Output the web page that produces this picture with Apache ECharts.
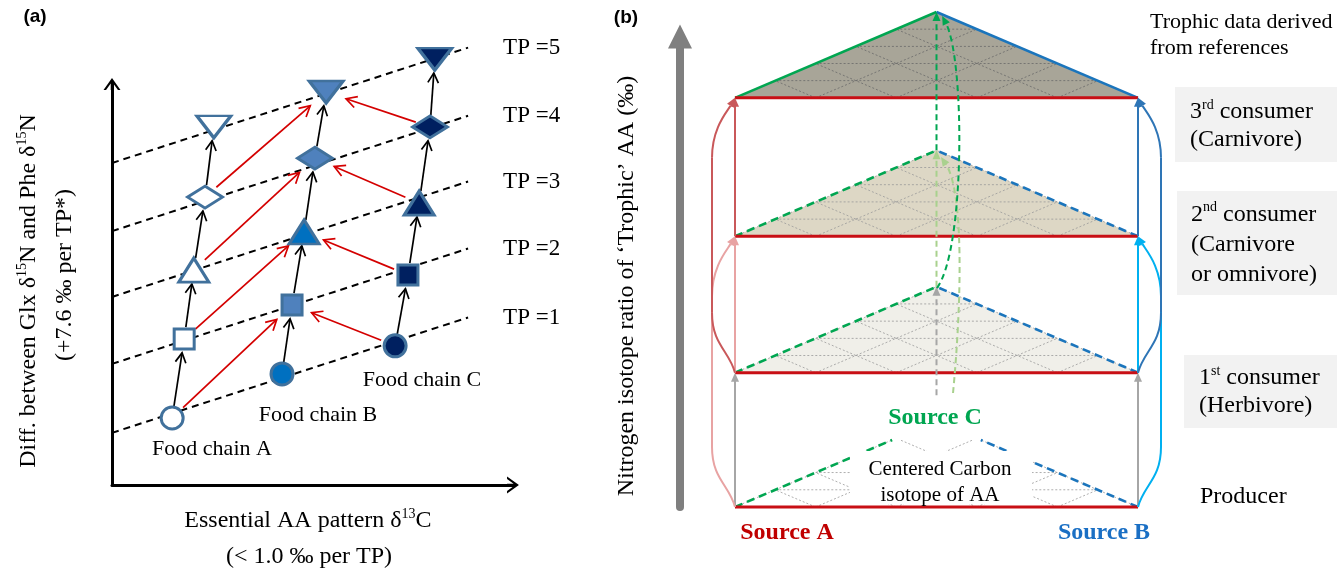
<!DOCTYPE html>
<html><head><meta charset="utf-8">
<script src="https://cdn.jsdelivr.net/npm/echarts@6/dist/echarts.min.js"></script>
<style>html,body{margin:0;padding:0;background:#fff}#c{width:1337px;height:570px}</style>
</head><body><div id="c"></div>
<script>
// ================= Panel (a) data =================
const tpLabels = ['TP =1', 'TP =2', 'TP =3', 'TP =4', 'TP =5'];
const tpLineY0 = [13.0, 30.2, 46.9, 63.3, 80.3];   // y of each TP line at x = 0
const tpLineX1 = 88.8;                               // x where TP lines end
const tpLineRise = 0.324;                            // rise of TP lines per x unit
const chainNames = ['Food chain A', 'Food chain B', 'Food chain C'];
const chainAx = [15.0, 18.0, 20.4, 23.2, 25.4];
const chainAy = [16.7, 36.4, 53.6, 71.8, 89.3];
const chainBx = [42.4, 44.9, 47.9, 50.6, 53.4];
const chainBy = [27.7, 44.9, 63.1, 81.5, 98.0];
const chainCx = [70.6, 73.8, 76.6, 79.3, 80.5];
const chainCy = [34.7, 52.4, 70.3, 89.3, 106.2];

// ================= Panel (b) data =================
const levelNames = ['Producer', '1st consumer', '2nd consumer', '3rd consumer'];
const levelY = [0, 0.985, 1.985, 3.0];
const apexRise = 0.63;
const cornerX = [0, 50, 100];        // Source A, Source C (apex), Source B
const sourceCY = 0.82;
const producerCut = 0.78;
const greenCurve = [[50.1, 1.605], [57.1, 1.884], [57.1, 3.277], [51.4, 3.60]];
const lightGreenCurve = [[54.1, 0.836], [56.3, 1.518], [56.8, 2.324], [51.1, 2.566]];

// ================= styles =================
const SERIF = '"Liberation Serif","Times New Roman",serif';
const SANS = '"Liberation Sans",Arial,sans-serif';
const CHEV = 'path://M10,0 L20,14 L17,14 L11.5,6.3 L11.5,14 L8.5,14 L8.5,6.3 L3,14 L0,14 Z';
const TRI = 'path://M0,20 L10,0 L20,20 Z';
const markerStroke = '#41719c';
const chainFill = [
  ['#ffffff', '#ffffff', '#ffffff', '#ffffff', '#ffffff'],
  ['#0070c0', '#4f81bd', '#0070c0', '#4f81bd', '#4f81bd'],
  ['#002060', '#002060', '#002060', '#002060', '#002060']
];
const markerSymbol = ['circle', 'rect', 'triangle', 'diamond', 'triangle'];
const markerRotate = [0, 0, 0, 0, 180];
const markerSize = [22, 20, [30, 24], [35, 22], [34, 22]];
const RED = '#c80f15', GREEN = '#00a651', BLUE = '#1b75bc';
const triFill = [null, '#f0efe9', '#ddd7c5', '#a8a598'];
const leftLinkColor = ['#a6a6a6', '#e8a3a3', '#c9585a'];
const rightLinkColor = ['#a6a6a6', '#00b0f0', '#2e75b6'];

const chainX = [chainAx, chainBx, chainCx];
const chainY = [chainAy, chainBy, chainCy];

function rot(v, t) { return [v[0] * Math.cos(t) - v[1] * Math.sin(t), v[0] * Math.sin(t) + v[1] * Math.cos(t)]; }
function headPoly(tip, ux, uy, len, half) {
  const bx = tip[0] - ux * len, by = tip[1] - uy * len;
  return [tip, [bx - uy * half, by + ux * half], [bx + uy * half, by - ux * half]];
}

// ---------- panel (a) series ----------
const scatterSeries = chainX.map((xs, c) => ({
  type: 'scatter', xAxisIndex: 0, yAxisIndex: 0, clip: false, z: 5,
  data: xs.map((x, i) => ({
    value: [x, chainY[c][i]],
    symbol: markerSymbol[i], symbolSize: markerSize[i], symbolRotate: markerRotate[i],
    itemStyle: { color: chainFill[c][i], borderColor: markerStroke, borderWidth: 3, opacity: 1 }
  }))
}));

const arrowData = [];
for (let c = 0; c < 3; c++) for (let i = 0; i < 4; i++)
  arrowData.push([chainX[c][i], chainY[c][i], chainX[c][i + 1], chainY[c][i + 1], 0]);
for (let i = 0; i < 4; i++) {
  arrowData.push([chainAx[i], chainAy[i], chainBx[i + 1], chainBy[i + 1], 1]);
  arrowData.push([chainCx[i], chainCy[i], chainBx[i + 1], chainBy[i + 1], 1]);
}

const arrowSeries = {
  type: 'custom', xAxisIndex: 0, yAxisIndex: 0, z: 3, data: arrowData,
  renderItem(params, api) {
    const p1 = api.coord([api.value(0), api.value(1)]);
    const p2 = api.coord([api.value(2), api.value(3)]);
    const kind = api.value(4);
    const dx = p2[0] - p1[0], dy = p2[1] - p1[1], L = Math.hypot(dx, dy), ux = dx / L, uy = dy / L;
    const g0 = kind ? 15 : 12, g1 = kind ? 21 : 14;
    const a = [p1[0] + ux * g0, p1[1] + uy * g0], b = [p2[0] - ux * g1, p2[1] - uy * g1];
    const color = kind ? '#d40000' : '#000';
    const hl = kind ? 12 : 11, ang = 0.5;
    const h1 = rot([-ux, -uy], ang), h2 = rot([-ux, -uy], -ang);
    return {
      type: 'group', children: [
        { type: 'line', shape: { x1: a[0], y1: a[1], x2: b[0], y2: b[1] }, style: { stroke: color, lineWidth: 1.7 } },
        { type: 'polyline', shape: { points: [[b[0] + h1[0] * hl, b[1] + h1[1] * hl], b, [b[0] + h2[0] * hl, b[1] + h2[1] * hl]] }, style: { stroke: color, lineWidth: 1.7, fill: null } }
      ]
    };
  }
};

const tpSeries = {
  type: 'custom', xAxisIndex: 0, yAxisIndex: 0, z: 2,
  data: tpLineY0.map((y, k) => [0, y, tpLineX1, y + tpLineRise * tpLineX1, k]),
  renderItem(params, api) {
    const p1 = api.coord([api.value(0), api.value(1)]);
    const p2 = api.coord([api.value(2), api.value(3)]);
    return {
      type: 'group', children: [
        { type: 'line', shape: { x1: p1[0], y1: p1[1], x2: p2[0], y2: p2[1] }, style: { stroke: '#000', lineWidth: 2, lineDash: [7, 5] } },
        { type: 'text', x: p2[0] + 35, y: p2[1], style: { text: tpLabels[api.value(4)], font: '23px ' + SERIF, fill: '#000', align: 'left', verticalAlign: 'middle' } }
      ]
    };
  }
};

// ---------- panel (b) series ----------
const triSeries = {
  type: 'custom', xAxisIndex: 1, yAxisIndex: 1, z: 2,
  data: levelY.map((y, i) => [cornerX[1], y, i]),
  renderItem(params, api) {
    const i = api.value(2), y0 = api.value(1), h = apexRise;
    const L = cornerX[0], M = cornerX[1], R = cornerX[2], W = R - L;
    const cut = i === 0 ? producerCut : 1;
    const C = (x, y) => api.coord([x, y]);
    const kids = [];
    if (triFill[i]) kids.push({ type: 'polygon', shape: { points: [C(L, y0), C(R, y0), C(M, y0 + h)] }, style: { fill: triFill[i] } });
    const lat = { stroke: i === 3 ? '#6a6a6a' : '#9a9a9a', lineWidth: 0.8, lineDash: [2, 2], fill: null };
    const n = 5;
    const seg = (p, q) => ({ type: 'line', shape: { x1: p[0], y1: p[1], x2: q[0], y2: q[1] }, style: lat });
    for (let k = 1; k < n; k++) {
      const t = k / n; if (t > cut) continue;
      kids.push(seg(C(L + W / 2 * t, y0 + h * t), C(R - W / 2 * t, y0 + h * t)));
    }
    for (let j = 1; j < n; j++) {
      const xb = L + W * j / n;
      const s1 = Math.min((R - xb) / W, cut);
      kids.push(seg(C(xb, y0), C(xb + W / 2 * s1, y0 + h * s1)));
      const s2 = Math.min((xb - L) / W, cut);
      kids.push(seg(C(xb, y0), C(xb - W / 2 * s2, y0 + h * s2)));
    }
    const dash = i === 3 ? null : [8, 5];
    const pl = C(L, y0), pr = C(R, y0);
    const tl = C(L + W / 2 * cut, y0 + h * cut), tr = C(R - W / 2 * cut, y0 + h * cut);
    if (dash) {
      kids.push({ type: 'line', shape: { x1: pl[0], y1: pl[1], x2: tl[0], y2: tl[1] }, style: { stroke: '#9a9a9a', lineWidth: 0.8, lineDash: [2, 2] } });
      kids.push({ type: 'line', shape: { x1: pr[0], y1: pr[1], x2: tr[0], y2: tr[1] }, style: { stroke: '#9a9a9a', lineWidth: 0.8, lineDash: [2, 2] } });
    }
    kids.push({ type: 'line', shape: { x1: pl[0], y1: pl[1], x2: tl[0], y2: tl[1] }, style: { stroke: GREEN, lineWidth: 2.6, lineDash: dash } });
    kids.push({ type: 'line', shape: { x1: pr[0], y1: pr[1], x2: tr[0], y2: tr[1] }, style: { stroke: BLUE, lineWidth: 2.6, lineDash: dash } });
    kids.push({ type: 'line', shape: { x1: pl[0], y1: pl[1], x2: pr[0], y2: pr[1] }, style: { stroke: RED, lineWidth: 3 } });
    return { type: 'group', children: kids };
  }
};

// straight links: [x, yFrom, yTo, colorKey, dashed]
const linkColors = [leftLinkColor[0], leftLinkColor[1], leftLinkColor[2], rightLinkColor[1], rightLinkColor[2], '#a6a6a6', '#a9d18e', GREEN];
const linkData = [
  [cornerX[0], levelY[0], levelY[1], 0, 0],
  [cornerX[0], levelY[1], levelY[2], 1, 0],
  [cornerX[0], levelY[2], levelY[3], 2, 0],
  [cornerX[2], levelY[0], levelY[1], 0, 0],
  [cornerX[2], levelY[1], levelY[2], 3, 0],
  [cornerX[2], levelY[2], levelY[3], 4, 0],
  [cornerX[1], sourceCY, levelY[1] + apexRise, 5, 1],
  [cornerX[1], levelY[1] + apexRise, levelY[2] + apexRise, 6, 1],
  [cornerX[1], levelY[2] + apexRise, levelY[3] + apexRise, 7, 1]
];
const linkSeries = {
  type: 'custom', xAxisIndex: 1, yAxisIndex: 1, z: 4, data: linkData,
  renderItem(params, api) {
    const s = api.coord([api.value(0), api.value(1)]), e = api.coord([api.value(0), api.value(2)]);
    const col = linkColors[api.value(3)], dashed = api.value(4);
    const hl = 9;
    return {
      type: 'group', children: [
        { type: 'line', shape: { x1: s[0], y1: s[1], x2: e[0], y2: e[1] + hl - 1 }, style: { stroke: col, lineWidth: 2, lineDash: dashed ? [6, 4] : null } },
        { type: 'polygon', shape: { points: headPoly(e, 0, -1, hl, 4) }, style: { fill: col } }
      ]
    };
  }
};

// side curves: [x, yFrom, yTo, side, colorIndex]
const curveColors = [leftLinkColor[1], leftLinkColor[2], rightLinkColor[1], rightLinkColor[2]];
const sideCurveData = [
  [cornerX[0], levelY[0], levelY[2], -1, 0],
  [cornerX[0], levelY[1], levelY[3], -1, 1],
  [cornerX[2], levelY[0], levelY[2], 1, 2],
  [cornerX[2], levelY[1], levelY[3], 1, 3]
];
const sideCurveSeries = {
  type: 'custom', xAxisIndex: 1, yAxisIndex: 1, z: 4, data: sideCurveData,
  renderItem(params, api) {
    const s = api.coord([api.value(0), api.value(1)]), e = api.coord([api.value(0), api.value(2)]);
    const b = api.value(3) * 23, col = curveColors[api.value(4)];
    const st = { stroke: col, lineWidth: 2, fill: null };
    const c2 = [e[0] + b * 0.35, e[1] + 14];
    const dx = e[0] - c2[0], dy = e[1] - c2[1], L = Math.hypot(dx, dy), ux = dx / L, uy = dy / L;
    const hl = 9, base = [e[0] - ux * hl, e[1] - uy * hl];
    return {
      type: 'group', children: [
        { type: 'bezierCurve', shape: { x1: s[0], y1: s[1], cpx1: s[0] + b * 0.25, cpy1: s[1] - 22, cpx2: s[0] + b, cpy2: s[1] - 28, x2: s[0] + b, y2: s[1] - 60 }, style: st },
        { type: 'line', shape: { x1: s[0] + b, y1: s[1] - 60, x2: e[0] + b, y2: e[1] + 60 }, style: st },
        { type: 'bezierCurve', shape: { x1: e[0] + b, y1: e[1] + 60, cpx1: e[0] + b, cpy1: e[1] + 30, cpx2: c2[0], cpy2: c2[1], x2: base[0], y2: base[1] }, style: st },
        { type: 'polygon', shape: { points: headPoly(e, ux, uy, hl, 4) }, style: { fill: col } }
      ]
    };
  }
};

const midCurves = [lightGreenCurve, greenCurve];
const midCurveColors = ['#a9d18e', GREEN];
const midCurveSeries = {
  type: 'custom', xAxisIndex: 1, yAxisIndex: 1, z: 4, data: [[cornerX[1], 1, 0], [cornerX[1], 2, 1]],
  renderItem(params, api) {
    const k = api.value(2), cv = midCurves[k], col = midCurveColors[k];
    const p = cv.map(q => api.coord(q));
    const dx = p[3][0] - p[2][0], dy = p[3][1] - p[2][1], L = Math.hypot(dx, dy), ux = dx / L, uy = dy / L;
    return {
      type: 'group', children: [
        { type: 'bezierCurve', shape: { x1: p[0][0], y1: p[0][1], cpx1: p[1][0], cpy1: p[1][1], cpx2: p[2][0], cpy2: p[2][1], x2: p[3][0] - ux * 8, y2: p[3][1] - uy * 8 }, style: { stroke: col, lineWidth: 2, lineDash: [6, 4], fill: null } },
        { type: 'polygon', shape: { points: headPoly(p[3], ux, uy, 9, 4) }, style: { fill: col } }
      ]
    };
  }
};

// ---------- text / decoration ----------
const sup = { fontSize: 14, fontFamily: SERIF, verticalAlign: 'top', lineHeight: 24 };
function T(x, y, text, opt) {
  opt = opt || {};
  return {
    type: 'text', x, y, rotation: opt.rot || 0, z: opt.z || 100,
    style: Object.assign({
      text, fill: opt.fill || '#000', font: opt.font || ('24px ' + SERIF),
      align: opt.align || 'center', verticalAlign: 'middle', lineHeight: opt.lh || 28,
      rich: { s: Object.assign({}, sup, opt.sup || {}) }
    }, opt.extra || {})
  };
}
const graphics = [
  T(35, 17, '(a)', { font: 'bold 19px ' + SANS }),
  T(626, 18, '(b)', { font: 'bold 19px ' + SANS }),
  T(29, 291, 'Diff. between Glx δ{s|15}N and Phe δ{s|15}N', { rot: Math.PI / 2 }),
  T(65, 275, '(+7.6 ‰ per TP*)', { rot: Math.PI / 2 }),
  T(308, 521, 'Essential AA pattern δ{s|13}C'),
  T(309, 557, '(< 1.0 ‰ per TP)'),
  T(212, 449, chainNames[0], { font: '22px ' + SERIF }),
  T(318, 415, chainNames[1], { font: '22px ' + SERIF }),
  T(422, 380, chainNames[2], { font: '22px ' + SERIF }),
  T(627, 286, 'Nitrogen isotope ratio of ‘Trophic’ AA (‰)', { rot: Math.PI / 2 }),
  T(1150, 35, 'Trophic data derived\nfrom references', { font: '22px ' + SERIF, align: 'left', lh: 26 }),
  { type: 'rect', z: 1, shape: { x: 1175, y: 87, width: 162, height: 75 }, style: { fill: '#f2f2f2' } },
  { type: 'rect', z: 1, shape: { x: 1177, y: 191, width: 160, height: 104 }, style: { fill: '#f2f2f2' } },
  { type: 'rect', z: 1, shape: { x: 1184, y: 355, width: 153, height: 73 }, style: { fill: '#f2f2f2' } },
  T(1190, 126, '3{s|rd} consumer\n(Carnivore)', { align: 'left' }),
  T(1191, 245, '2{s|nd} consumer\n(Carnivore\nor omnivore)', { align: 'left', lh: 30 }),
  T(1199, 392, '1{s|st} consumer\n(Herbivore)', { align: 'left' }),
  T(1200, 497, levelNames[0], { align: 'left' }),
  { type: 'rect', z: 50, shape: { x: 850, y: 451, width: 182, height: 53 }, style: { fill: '#ffffff' } },
  T(940, 469, 'Centered Carbon', { font: '21px ' + SERIF }),
  T(940, 495, 'isotope of AA', { font: '21px ' + SERIF }),
  T(787, 533, 'Source A', { font: 'bold 24px ' + SERIF, fill: '#c00000' }),
  T(1104, 533, 'Source B', { font: 'bold 24px ' + SERIF, fill: '#1a6fc4' }),
  T(935, 418, 'Source C', { font: 'bold 24px ' + SERIF, fill: '#00a651' })
];

const hiddenAxis = { axisTick: { show: false }, axisLabel: { show: false }, splitLine: { show: false } };
const chart = echarts.init(document.getElementById('c'));
chart.setOption({
  animation: false,
  backgroundColor: '#ffffff',
  grid: [
    { left: 112, top: 84, width: 401, height: 401 },
    { left: 735, top: 36.5, width: 403, height: 470.5 }
  ],
  xAxis: [
    Object.assign({ gridIndex: 0, type: 'value', min: 0, max: 100,
      axisLine: { show: true, onZero: false, symbol: ['none', CHEV], symbolSize: [17, 13], lineStyle: { color: '#000', width: 3 } } }, hiddenAxis),
    { gridIndex: 1, type: 'value', min: 0, max: 100, show: false }
  ],
  yAxis: [
    Object.assign({ gridIndex: 0, type: 'value', min: 0, max: 100,
      axisLine: { show: true, onZero: false, symbol: ['none', CHEV], symbolSize: [17, 13], lineStyle: { color: '#000', width: 3 } } }, hiddenAxis),
    Object.assign({ gridIndex: 1, type: 'value', min: 0, max: 3.45, offset: 55,
      axisLine: { show: true, onZero: false, symbol: ['none', TRI], symbolSize: [26, 24], lineStyle: { color: '#7f7f7f', width: 8 } } }, hiddenAxis)
  ],
  series: [tpSeries, arrowSeries].concat(scatterSeries, [triSeries, linkSeries, sideCurveSeries, midCurveSeries]),
  graphic: { elements: graphics }
});
</script>
</body></html>
